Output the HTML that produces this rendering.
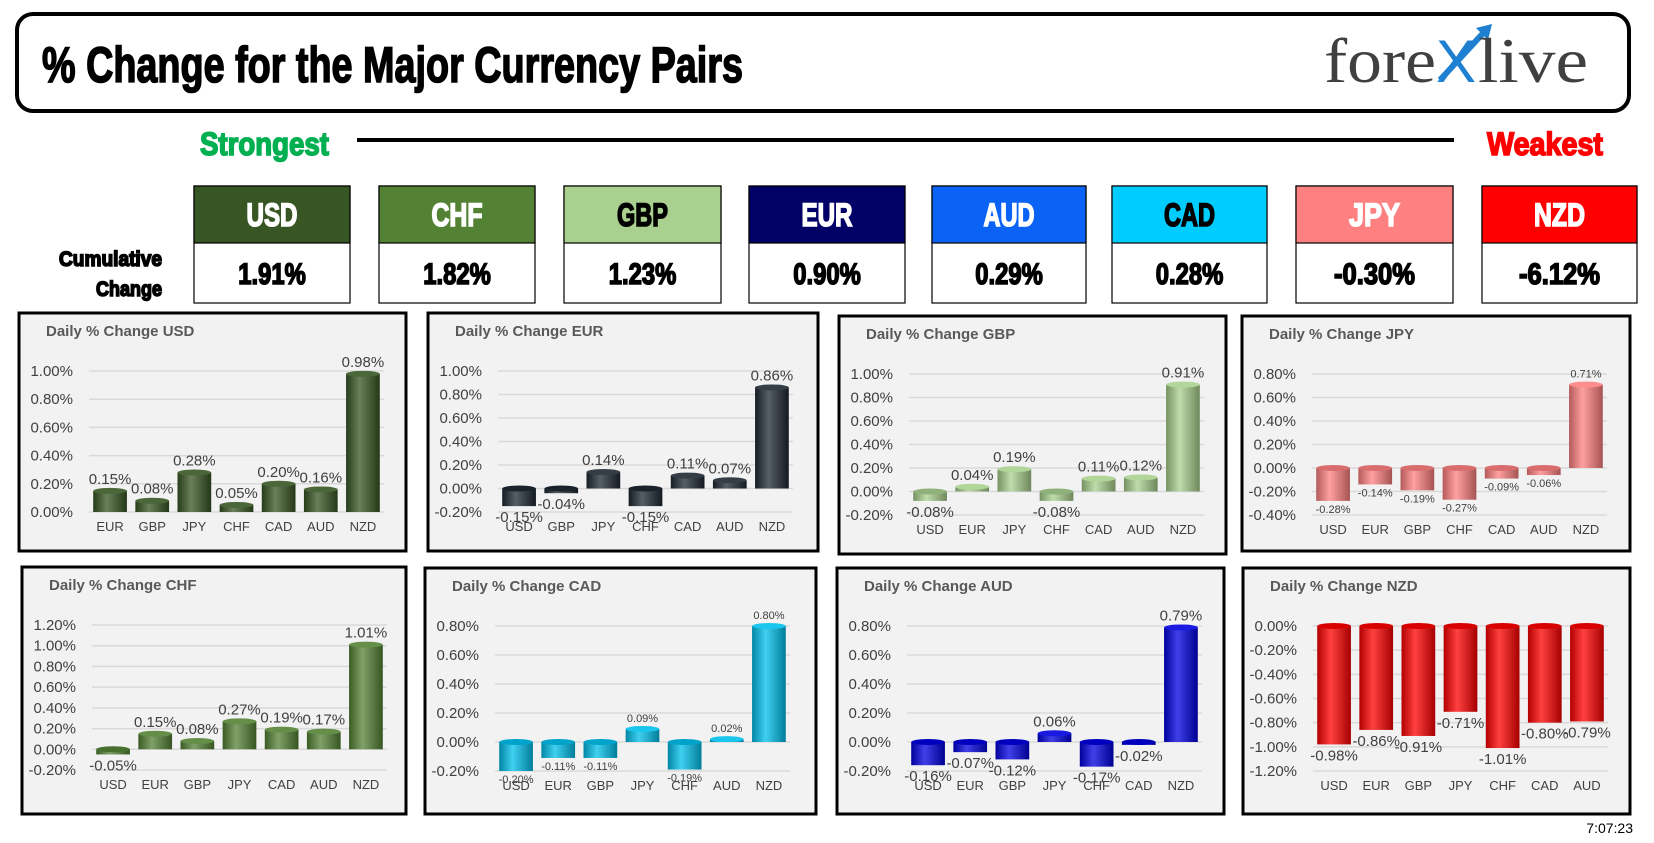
<!DOCTYPE html>
<html><head><meta charset="utf-8"><style>
html,body{margin:0;padding:0;background:#fff;width:1654px;height:843px;overflow:hidden}
svg{display:block}
.imp{font-family:"Liberation Sans Narrow","Liberation Sans",sans-serif;font-weight:bold;stroke:currentColor;stroke-width:1.6px}
.lab{font-family:"Liberation Sans Narrow","Liberation Sans",sans-serif;fill:#404040}
.ttl{font-family:"Liberation Sans",sans-serif;font-weight:bold;fill:#595959;font-size:15px}
</style></head><body>
<svg id="root" width="1654" height="843" viewBox="0 0 1654 843" xmlns="http://www.w3.org/2000/svg">
<defs></defs>
<rect x="17" y="14" width="1612" height="97" rx="16" fill="#fff" stroke="#000" stroke-width="4"/>
<text class="imp" style="color:#000" x="42" y="82" font-size="50" textLength="701" lengthAdjust="spacingAndGlyphs">% Change for the Major Currency Pairs</text>
<g>
<text x="1324" y="82" font-family="Liberation Serif,serif" font-size="64" fill="#404040" textLength="112" lengthAdjust="spacingAndGlyphs">fore</text>
<text x="1436" y="82" font-family="Liberation Sans,sans-serif" font-size="60" fill="#1f7fd0">X</text>
<path d="M1440 80 L1486 30" stroke="#1f7fd0" stroke-width="6"/><path d="M1476 28 L1492 24 L1488 40 Z" fill="#1f7fd0"/>
<text x="1478" y="82" font-family="Liberation Serif,serif" font-size="64" fill="#404040" textLength="110" lengthAdjust="spacingAndGlyphs">live</text>
</g>
<text class="imp" style="color:#00b050" x="200" y="155" font-size="32" fill="#00b050" textLength="129" lengthAdjust="spacingAndGlyphs">Strongest</text>
<rect x="357" y="138" width="1097" height="4" fill="#000"/>
<text class="imp" style="color:#ff0000" x="1487" y="155" font-size="32" fill="#ff0000" textLength="116" lengthAdjust="spacingAndGlyphs">Weakest</text>
<text class="imp" style="color:#000" x="162" y="266" font-size="21" text-anchor="end" textLength="103" lengthAdjust="spacingAndGlyphs">Cumulative</text>
<text class="imp" style="color:#000" x="162" y="296" font-size="21" text-anchor="end" textLength="66" lengthAdjust="spacingAndGlyphs">Change</text>
<g id="boxes"></g>
<g id="charts"></g>
<text x="1633" y="833" font-family="Liberation Sans,sans-serif" font-size="14" text-anchor="end" fill="#000">7:07:23</text>
</svg>
<script>
const curNames=["USD","CHF","GBP","EUR","AUD","CAD","JPY","NZD"];
const curValues=["1.91%","1.82%","1.23%","0.90%","0.29%","0.28%","-0.30%","-6.12%"];

const usdCats=["EUR","GBP","JPY","CHF","CAD","AUD","NZD"];
const usdVals=[0.15,0.08,0.28,0.05,0.20,0.16,0.98];
const usdTicks=[0,0.2,0.4,0.6,0.8,1.0];
const eurCats=["USD","GBP","JPY","CHF","CAD","AUD","NZD"];
const eurVals=[-0.15,-0.04,0.14,-0.15,0.11,0.07,0.86];
const eurTicks=[-0.2,0,0.2,0.4,0.6,0.8,1.0];
const gbpCats=["USD","EUR","JPY","CHF","CAD","AUD","NZD"];
const gbpVals=[-0.08,0.04,0.19,-0.08,0.11,0.12,0.91];
const gbpTicks=[-0.2,0,0.2,0.4,0.6,0.8,1.0];
const jpyCats=["USD","EUR","GBP","CHF","CAD","AUD","NZD"];
const jpyVals=[-0.28,-0.14,-0.19,-0.27,-0.09,-0.06,0.71];
const jpyTicks=[-0.4,-0.2,0,0.2,0.4,0.6,0.8];
const chfCats=["USD","EUR","GBP","JPY","CAD","AUD","NZD"];
const chfVals=[-0.05,0.15,0.08,0.27,0.19,0.17,1.01];
const chfTicks=[-0.2,0,0.2,0.4,0.6,0.8,1.0,1.2];
const cadCats=["USD","EUR","GBP","JPY","CHF","AUD","NZD"];
const cadVals=[-0.20,-0.11,-0.11,0.09,-0.19,0.02,0.80];
const cadTicks=[-0.2,0,0.2,0.4,0.6,0.8];
const audCats=["USD","EUR","GBP","JPY","CHF","CAD","NZD"];
const audVals=[-0.16,-0.07,-0.12,0.06,-0.17,-0.02,0.79];
const audTicks=[-0.2,0,0.2,0.4,0.6,0.8];
const nzdCats=["USD","EUR","GBP","JPY","CHF","CAD","AUD"];
const nzdVals=[-0.98,-0.86,-0.91,-0.71,-1.01,-0.80,-0.79];
const nzdTicks=[-1.2,-1.0,-0.8,-0.6,-0.4,-0.2,0];

const NS="http://www.w3.org/2000/svg";
function mk(tag,attrs,parent,txt){const e=document.createElementNS(NS,tag);for(const k in attrs)e.setAttribute(k,attrs[k]);if(txt!==undefined)e.textContent=txt;parent.appendChild(e);return e;}

const boxX=[194,379,564,749,932,1112,1296,1482];
const boxW=[156,156,157,156,154,155,157,155];
const boxBg=["#375623","#548235","#a9d08e","#000066","#0a63f5","#00ccff","#ff8080","#ff0000"];
const boxFg=["#fff","#fff","#000","#fff","#fff","#000","#fff","#fff"];
const bg=document.getElementById("boxes");
curNames.forEach((n,i)=>{
  const g=mk("g",{},bg);
  
  
  mk("rect",{x:boxX[i],y:186,width:boxW[i],height:117,fill:"#fff",stroke:"#000","stroke-width":1.2},g);
  mk("rect",{x:boxX[i],y:186,width:boxW[i],height:57,fill:boxBg[i],stroke:"#000","stroke-width":1.2},g);
  mk("text",{x:boxX[i]+boxW[i]/2,y:226,"font-size":32,"text-anchor":"middle",fill:boxFg[i],style:"color:"+boxFg[i],class:"imp",textLength:n.length*17,lengthAdjust:"spacingAndGlyphs"},g,n);
  const v=curValues[i];
  mk("text",{x:boxX[i]+boxW[i]/2,y:284,"font-size":30,"text-anchor":"middle",fill:"#000",style:"color:#000",class:"imp",textLength:v.length*13.5,lengthAdjust:"spacingAndGlyphs"},g,v);
});

const defs=document.querySelector("defs");
function shade(hex,f){const n=parseInt(hex.slice(1),16);let r=n>>16,g=(n>>8)&255,b=n&255;
  const m=x=>f<1?Math.round(x*f):Math.round(x+(255-x)*(f-1));return "rgb("+m(r)+","+m(g)+","+m(b)+")";}
function mkGrad(id,c){
  const lg=mk("linearGradient",{id:id,x1:0,x2:1,y1:0,y2:0},defs);
  mk("stop",{offset:"0","stop-color":shade(c,0.7)},lg);
  mk("stop",{offset:"0.4","stop-color":shade(c,1.25)},lg);
  mk("stop",{offset:"1","stop-color":shade(c,0.65)},lg);
}

const charts=[
 {key:"usd",x:19,y:313,w:387,h:238,cats:usdCats,vals:usdVals,ticks:usdTicks,color:"#375623",small:false},
 {key:"eur",x:428,y:313,w:390,h:238,cats:eurCats,vals:eurVals,ticks:eurTicks,color:"#1e2833",small:false},
 {key:"gbp",x:839,y:316,w:387,h:238,cats:gbpCats,vals:gbpVals,ticks:gbpTicks,color:"#a9d08e",small:false},
 {key:"jpy",x:1242,y:316,w:388,h:235,cats:jpyCats,vals:jpyVals,ticks:jpyTicks,color:"#ff8080",small:true},
 {key:"chf",x:22,y:567,w:384,h:247,cats:chfCats,vals:chfVals,ticks:chfTicks,color:"#548235",small:false},
 {key:"cad",x:425,y:568,w:391,h:246,cats:cadCats,vals:cadVals,ticks:cadTicks,color:"#00c0ec",small:true},
 {key:"aud",x:837,y:568,w:387,h:246,cats:audCats,vals:audVals,ticks:audTicks,color:"#0000e0",small:false},
 {key:"nzd",x:1243,y:568,w:387,h:246,cats:nzdCats,vals:nzdVals,ticks:nzdTicks,color:"#ff0000",small:false}
];
const cg=document.getElementById("charts");
const fmt=v=>v.toFixed(2)+"%";
charts.forEach(c=>{
  const g=mk("g",{},cg);
  
  
  mk("rect",{x:c.x,y:c.y,width:c.w,height:c.h,fill:"#f2f2f2",stroke:"#000","stroke-width":3},g);
  const t=mk("text",{x:c.x+27,y:c.y+23,class:"ttl"},g,"Daily % Change "+c.key.toUpperCase());
  
  
  const top=c.y+58, bot=c.y+(c.h>240?203:199);
  const tmin=c.ticks[0], tmax=c.ticks[c.ticks.length-1];
  const yS=v=>bot-(v-tmin)/(tmax-tmin)*(bot-top);
  const x0=c.x+70, x1=c.x+365, step=(x1-x0)/c.cats.length;
  const xS=i=>x0+step*(i+0.5);
  c.ticks.forEach(tv=>{
    const y=yS(tv);
    mk("line",{x1:x0,x2:x1,y1:y,y2:y,stroke:"#d9d9d9","stroke-width":1.5},g);
    const tl=mk("text",{x:c.x+54,y:y+5,"font-size":15,"text-anchor":"end",class:"lab"},g,fmt(tv));
    
    
  });
  const gid="g-"+c.key; mkGrad(gid,c.color);
  const bw=step*0.8;
  c.vals.forEach((v,i)=>{
    const cx=xS(i), y0=yS(0), yv=yS(v);
    const ytop=Math.min(y0,yv), hh=Math.abs(y0-yv);
    const r=mk("rect",{x:cx-bw/2,y:ytop,width:bw,height:Math.max(hh,1),fill:"url(#"+gid+")"},g);
    
    
    mk("ellipse",{cx:cx,cy:ytop,rx:bw/2,ry:3,fill:shade(c.color,v>=0?1.1:0.85)},g);
    const ly=v>=0?yv-7:yv+(c.small?12:16);
    const lbl=mk("text",{x:cx,y:ly,"font-size":c.small?11:15,"text-anchor":"middle",class:"lab"},g,fmt(v));
    
    
    const cl=mk("text",{x:cx,y:c.y+(c.h>240?218:214)+4,"font-size":13,"text-anchor":"middle",class:"lab"},g,c.cats[i]);
    
    
  });
});
</script>
</body></html>
